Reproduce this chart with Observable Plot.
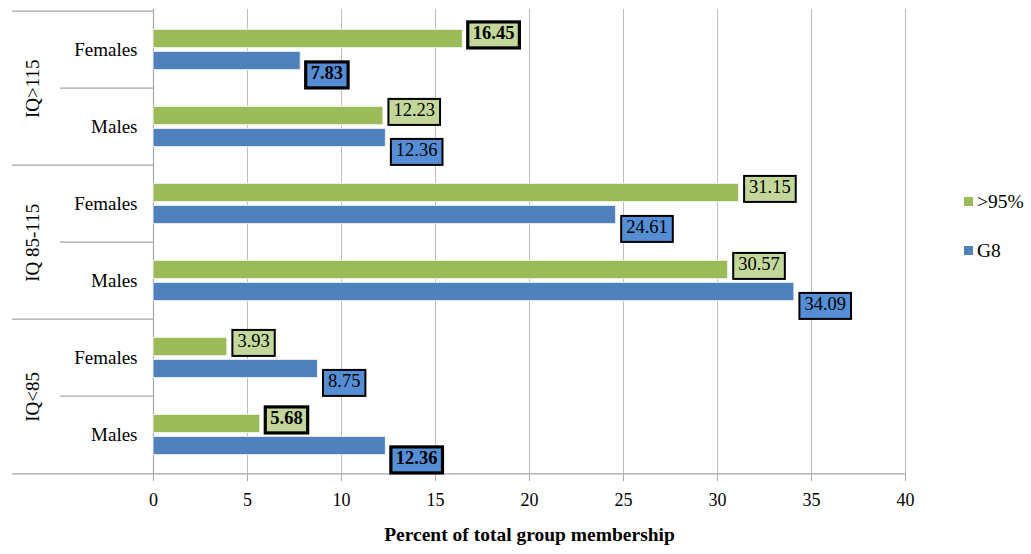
<!DOCTYPE html>
<html><head><meta charset="utf-8">
<script src="https://cdn.jsdelivr.net/npm/d3@7"></script>
<script src="https://cdn.jsdelivr.net/npm/@observablehq/plot@0.6"></script>
<style>
body{margin:0;background:#fff;font-family:"Liberation Serif","Times New Roman",Tinos,"DejaVu Serif",serif;}
#wrap{position:relative;width:1031px;height:554px;}
svg text{font-family:"Liberation Serif","Times New Roman",Tinos,"DejaVu Serif",serif;}
.leg{position:absolute;left:964px;font-size:19.5px;display:flex;align-items:center;line-height:1;color:#000;}
.leg span.sw{display:inline-block;width:9px;height:9px;margin-right:4px;}
</style></head><body><div id="wrap"></div>
<script>
// ---- data ----
const groups = ["IQ>115","IQ>115","IQ 85-115","IQ 85-115","IQ<85","IQ<85"];
const sexes = ["Females","Males","Females","Males","Females","Males"];
const above95 = [16.45,12.23,31.15,30.57,3.93,5.68];
const g8 = [7.83,12.36,24.61,34.09,8.75,12.36];
const boldRow = [true,false,false,false,false,true];
const groupNames = ["IQ>115","IQ 85-115","IQ<85"];
const seriesNames = [">95%","G8"];
const xTicks = [0,5,10,15,20,25,30,35,40];
const xTitle = "Percent of total group membership";

// ---- styling ----
const colGreen = "#9bbb59", colBlue = "#4f81bd";
const lblGreen = "#c4d79b", lblBlue = "#558ed5";
const W = 1031, H = 554, mT = 9, mB = 79, mL = 153, mR = 126;
const band = (H - mT - mB) / groups.length;
const barH = 19;
const inset = (band - barH) / 2;
const labelAreaStart = -7.5;   // x units left of 0 (label area)
const subSepStart = -4.95;

const rows = groups.map((g, i) => ({
  key: g + "|" + sexes[i], group: g, sex: sexes[i],
  above: above95[i], g8: g8[i], bold: boldRow[i], idx: i
}));
const keys = rows.map(d => d.key);
const groupFirst = groupNames.map(g => rows.find(r => r.group === g));

const fmt = v => v.toFixed(2);
const lblCommon = {y: "key", textAnchor: "start", fontSize: 18.5, dx: 10};

const chart = Plot.plot({
  width: W, height: H,
  marginTop: mT, marginBottom: mB, marginLeft: mL, marginRight: mR,
  style: {fontFamily: "'Liberation Serif','Times New Roman',serif", fontSize: "18px", color: "#000", background: "#fff", overflow: "visible"},
  x: {domain: [0, 40], axis: null},
  y: {domain: keys, padding: 0, axis: null},
  marks: [
    Plot.ruleX(xTicks, {stroke: "#bfbfbf", strokeWidth: 1}),
    Plot.ruleX([0], {stroke: "#a6a6a6", strokeWidth: 1.2}),
    // separators in label area
    Plot.ruleY(rows.filter(r => r.idx % 2 === 0), {y: "key", dy: -band / 2, x1: labelAreaStart, x2: 0, stroke: "#a6a6a6", strokeWidth: 1.2}),
    Plot.ruleY(rows.filter(r => r.idx % 2 === 1), {y: "key", dy: -band / 2, x1: subSepStart, x2: 0, stroke: "#a6a6a6", strokeWidth: 1.2}),
    Plot.ruleY(rows.slice(-1), {y: "key", dy: band / 2, x1: labelAreaStart, x2: 40, stroke: "#a6a6a6", strokeWidth: 1.2}),
    // bars
    Plot.barX(rows, {x: "above", y: "key", fill: colGreen, insetTop: inset, insetBottom: inset, dy: -11, stroke: "#f2f2f2", strokeWidth: 1}),
    Plot.barX(rows, {x: "g8", y: "key", fill: colBlue, insetTop: inset, insetBottom: inset, dy: 11, stroke: "#f2f2f2", strokeWidth: 1}),
    // value labels
    Plot.text(rows.filter(r => !r.bold), {...lblCommon, x: "above", text: d => fmt(d.above), dy: -17, ariaDescription: "lbl-green-normal"}),
    Plot.text(rows.filter(r => r.bold), {...lblCommon, x: "above", text: d => fmt(d.above), dy: -17, fontWeight: "bold", ariaDescription: "lbl-green-bold"}),
    Plot.text(rows.filter(r => !r.bold), {...lblCommon, x: "g8", text: d => fmt(d.g8), dy: 23, ariaDescription: "lbl-blue-normal"}),
    Plot.text(rows.filter(r => r.bold), {...lblCommon, x: "g8", text: d => fmt(d.g8), dy: 23, fontWeight: "bold", ariaDescription: "lbl-blue-bold"}),
    // y labels
    Plot.axisY({domain: keys, tickSize: 0, tickPadding: 16, tickFormat: k => k.split("|")[1], fontSize: 19, label: null}),
    Plot.text(groupFirst, {y: "key", dy: band / 2, text: "group", rotate: -90, frameAnchor: "left", textAnchor: "middle", dx: -121, fontSize: 19}),
    // x axis
    Plot.axisX({ticks: xTicks, tickSize: 6, tickPadding: 12, fontSize: 18, stroke: "#a6a6a6", label: null}),
    Plot.text([xTitle], {frameAnchor: "bottom", dy: 65, fontWeight: "bold", fontSize: 19.5})
  ]
});

const wrap = document.getElementById("wrap");
wrap.appendChild(chart);

// label boxes
const styles = {
  "lbl-green-normal": [lblGreen, 2],
  "lbl-green-bold": [lblGreen, 3.2],
  "lbl-blue-normal": [lblBlue, 2],
  "lbl-blue-bold": [lblBlue, 3.2]
};
chart.querySelectorAll("g[aria-description^='lbl-']").forEach(g => {
  const [fill, sw] = styles[g.getAttribute("aria-description")];
  g.querySelectorAll("text").forEach(t => {
    const bb = t.getBBox();
    const r = document.createElementNS("http://www.w3.org/2000/svg", "rect");
    r.setAttribute("x", bb.x - 5);
    r.setAttribute("y", bb.y - 1);
    r.setAttribute("width", bb.width + 10);
    r.setAttribute("height", bb.height + 6);
    r.setAttribute("fill", fill);
    r.setAttribute("stroke", "#000");
    r.setAttribute("stroke-width", sw);
    const tr = t.getAttribute("transform");
    if (tr) r.setAttribute("transform", tr);
    g.insertBefore(r, t);
  });
});

// legend
const legendColors = [colGreen, colBlue];
const legendTops = [192, 241];
seriesNames.forEach((n, i) => {
  const d = document.createElement("div");
  d.className = "leg";
  d.style.top = legendTops[i] + "px";
  d.innerHTML = `<span class="sw" style="background:${legendColors[i]}"></span><span></span>`;
  d.lastChild.textContent = n;
  wrap.appendChild(d);
});
</script></body></html>
